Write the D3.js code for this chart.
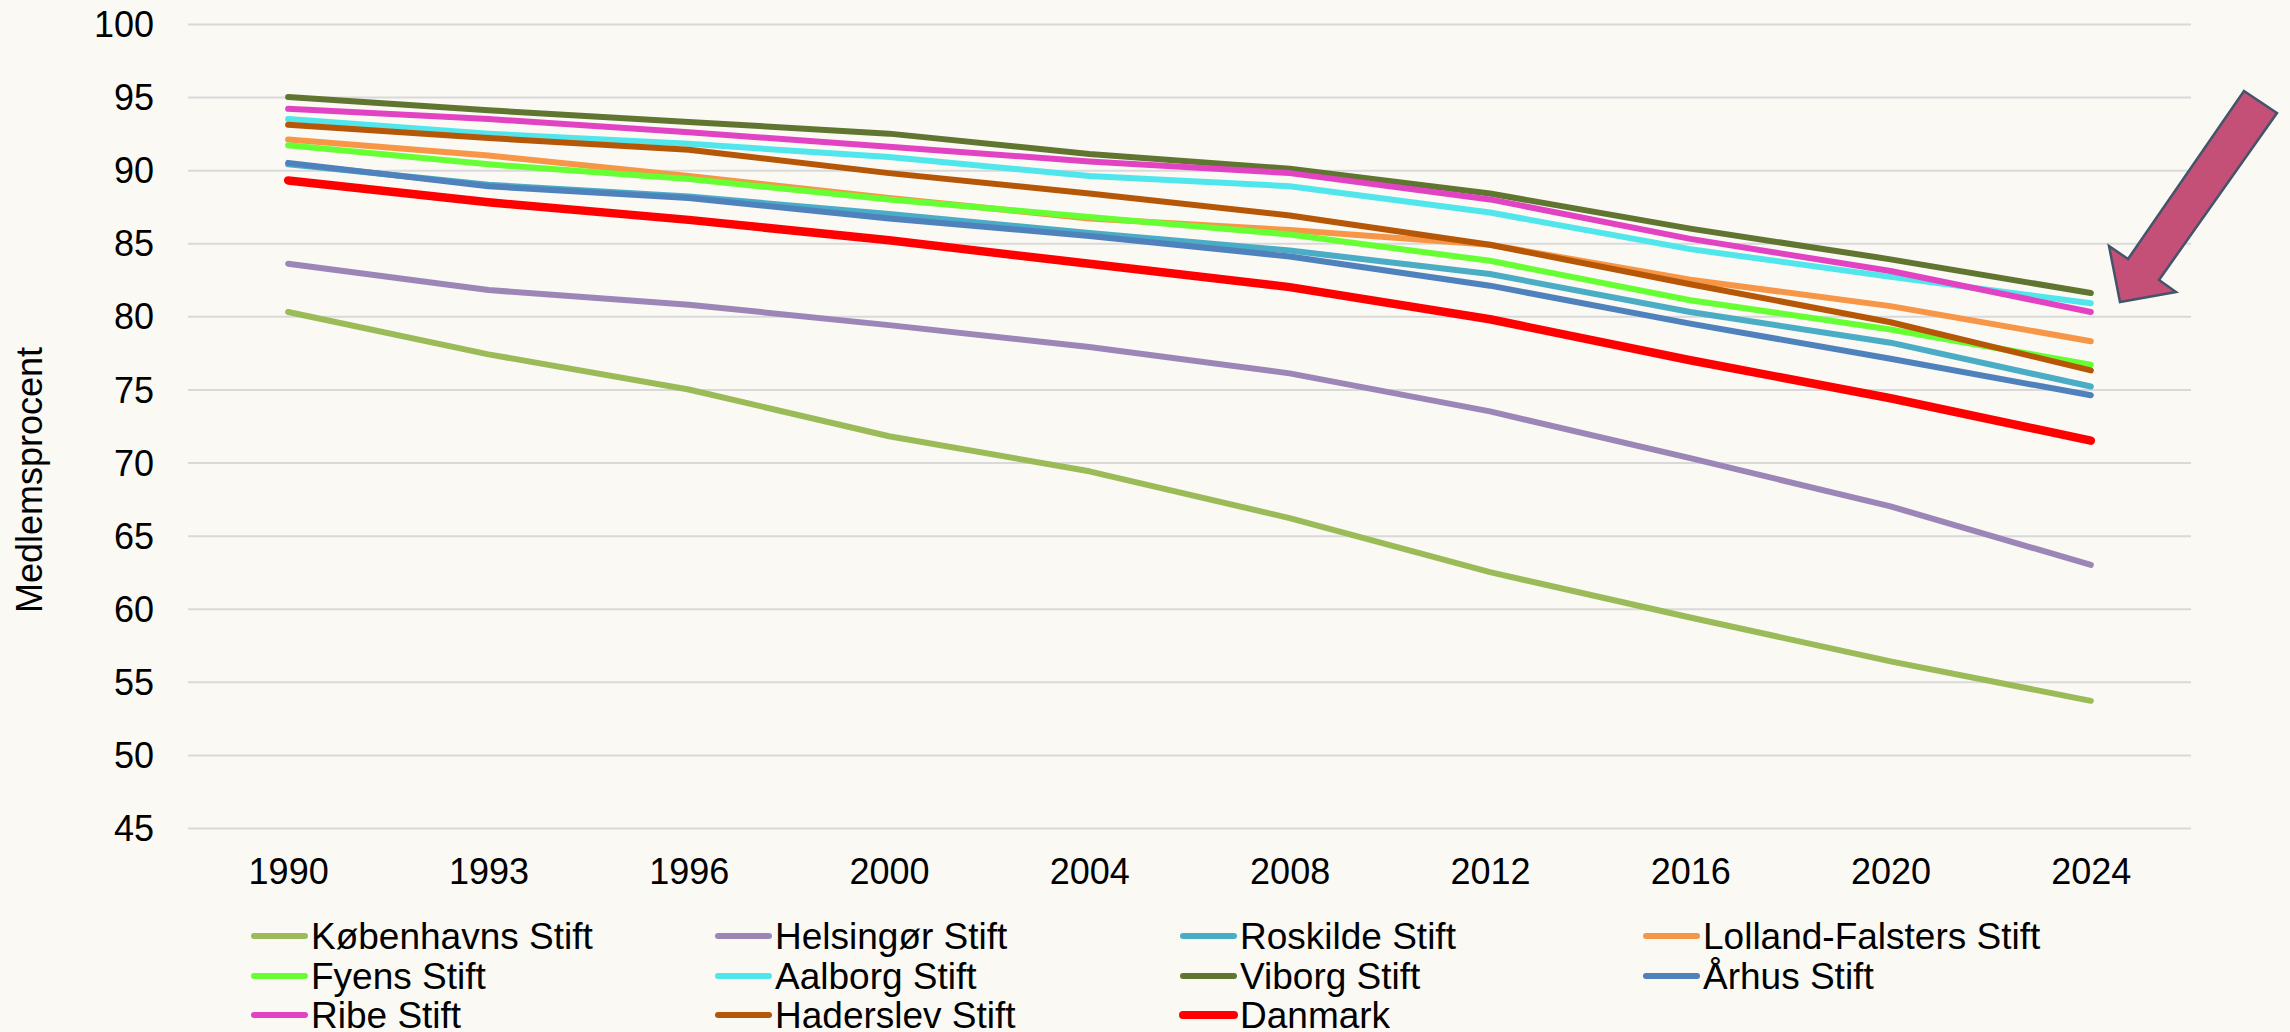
<!DOCTYPE html>
<html>
<head>
<meta charset="utf-8">
<script src="https://cdn.jsdelivr.net/npm/d3@7"></script>
<style>
  html, body { margin: 0; padding: 0; background: #FAF9F4; }
  svg { display: block; font-family: "Liberation Sans", Arial, sans-serif; }
  .grid line { stroke: #D9D9D9; stroke-width: 2; }
  .axis text { fill: #000; font-size: 36px; }
  .legend text { fill: #000; font-size: 37px; }
</style>
</head>
<body>
<svg id="chart"></svg>
<script>
let years = ['1990', '1993', '1996', '2000', '2004', '2008', '2012', '2016', '2020', '2024'];
let yTicks = [45, 50, 55, 60, 65, 70, 75, 80, 85, 90, 95, 100];

let koebenhavn = [80.3, 77.4, 75.0, 71.8, 69.4, 66.2, 62.5, 59.4, 56.4, 53.7];
let helsingoer = [83.6, 81.8, 80.8, 79.4, 77.9, 76.1, 73.5, 70.3, 67.0, 63.0];
let roskilde   = [90.4, 89.0, 88.2, 87.0, 85.7, 84.5, 82.9, 80.3, 78.2, 75.2];
let lolland    = [92.1, 91.0, 89.6, 88.1, 86.7, 85.9, 84.9, 82.5, 80.7, 78.3];
let fyens      = [91.7, 90.4, 89.4, 88.0, 86.8, 85.6, 83.8, 81.1, 79.1, 76.7];
let aalborg    = [93.5, 92.5, 91.8, 90.9, 89.6, 88.9, 87.1, 84.6, 82.7, 80.9];
let viborg     = [95.0, 94.1, 93.3, 92.5, 91.1, 90.1, 88.4, 86.0, 83.9, 81.6];
let aarhus     = [90.5, 88.9, 88.1, 86.7, 85.5, 84.1, 82.1, 79.5, 77.1, 74.6];
let ribe       = [94.2, 93.5, 92.6, 91.6, 90.6, 89.8, 88.0, 85.3, 83.1, 80.3];
let haderslev  = [93.1, 92.2, 91.4, 89.8, 88.4, 86.9, 84.9, 82.2, 79.6, 76.3];
let danmark    = [89.3, 87.8, 86.6, 85.2, 83.6, 82.0, 79.8, 77.0, 74.4, 71.5];

let seriesNames = ['Københavns Stift', 'Helsingør Stift', 'Roskilde Stift', 'Lolland-Falsters Stift',
                   'Fyens Stift', 'Aalborg Stift', 'Viborg Stift', 'Århus Stift',
                   'Ribe Stift', 'Haderslev Stift', 'Danmark'];
let seriesValues = [koebenhavn, helsingoer, roskilde, lolland, fyens, aalborg, viborg, aarhus, ribe, haderslev, danmark];
let seriesColors = ['#9BBB59', '#9B86B7', '#4BACC6', '#F79646', '#66FF33', '#50E6EC',
                    '#5F7530', '#4F81BD', '#E243C3', '#B65708', '#FF0000'];

let width = 2290, height = 1032;
let margin = { top: 24, right: 99, bottom: 204, left: 188 };

let svg = d3.select('#chart')
    .attr('width', width)
    .attr('height', height);

svg.append('rect')
    .attr('width', width)
    .attr('height', height)
    .attr('fill', '#FAF9F4');

let x = d3.scalePoint()
    .domain(years)
    .range([margin.left, width - margin.right])
    .padding(0.5);

let y = d3.scaleLinear()
    .domain([45, 100])
    .range([height - margin.bottom, margin.top]);

// horizontal gridlines
let yGrid = d3.axisLeft(y)
    .tickValues(yTicks)
    .tickSize(-(width - margin.left - margin.right))
    .tickFormat('');

svg.append('g')
    .attr('class', 'grid')
    .attr('transform', 'translate(' + margin.left + ',0)')
    .call(yGrid)
    .call(g => g.select('.domain').remove());

// y axis labels
let yAxis = d3.axisLeft(y)
    .tickValues(yTicks)
    .tickSize(0)
    .tickPadding(34);

svg.append('g')
    .attr('class', 'axis y')
    .attr('transform', 'translate(' + margin.left + ',0)')
    .call(yAxis)
    .call(g => g.select('.domain').remove())
    .selectAll('text')
    .attr('dy', '0.35em');

// x axis labels
let xAxis = d3.axisBottom(x)
    .tickSize(0)
    .tickPadding(30);

svg.append('g')
    .attr('class', 'axis x')
    .attr('transform', 'translate(0,' + (height - margin.bottom) + ')')
    .call(xAxis)
    .call(g => g.select('.domain').remove());

svg.append('text')
    .attr('transform', 'translate(42,' + 480 + ') rotate(-90)')
    .attr('text-anchor', 'middle')
    .style('font-size', '36px')
    .text('Medlemsprocent');

// series lines
let line = d3.line()
    .x((d, i) => x(years[i]))
    .y(d => y(d));

svg.append('g')
    .selectAll('path')
    .data(seriesValues)
    .enter()
    .append('path')
    .attr('d', d => line(d))
    .attr('fill', 'none')
    .attr('stroke', (d, i) => seriesColors[i])
    .attr('stroke-width', (d, i) => i === 10 ? 8.5 : 6)
    .attr('stroke-linejoin', 'round')
    .attr('stroke-linecap', 'round');

// legend, 4 columns
let legend = svg.append('g').attr('class', 'legend');
let colX = [251, 715, 1180, 1643];
let rowY = [936, 976, 1015];

seriesNames.forEach((name, i) => {
    let cx = colX[i % 4], cy = rowY[Math.floor(i / 4)];
    legend.append('line')
        .attr('x1', cx + 3).attr('x2', cx + 54)
        .attr('y1', cy).attr('y2', cy)
        .attr('stroke', seriesColors[i])
        .attr('stroke-width', i === 10 ? 8 : 6)
        .attr('stroke-linecap', 'round');
    legend.append('text')
        .attr('x', cx + 60)
        .attr('y', cy)
        .attr('dy', '0.35em')
        .text(name);
});

// callout arrow pointing at the line ends
let arrowPts = [[2244, 91], [2277, 113], [2159, 280], [2176, 292], [2120, 302], [2109, 246], [2128, 259]];
svg.append('polygon')
    .attr('points', arrowPts.map(p => p.join(',')).join(' '))
    .attr('fill', '#C44F77')
    .attr('stroke', '#44546A')
    .attr('stroke-width', 2.5)
    .attr('stroke-linejoin', 'miter');
</script>
</body>
</html>
